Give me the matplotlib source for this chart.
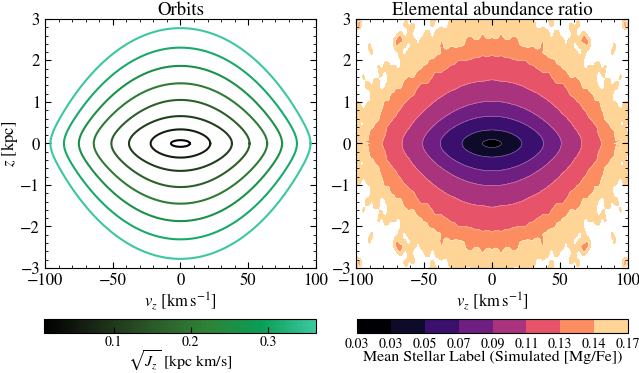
import matplotlib
matplotlib.use("Agg")
import matplotlib.pyplot as plt
import numpy as np
from matplotlib.colors import LinearSegmentedColormap, ListedColormap, BoundaryNorm, Normalize
from matplotlib.ticker import MultipleLocator

plt.rcParams['font.family'] = 'STIXGeneral'
plt.rcParams['mathtext.fontset'] = 'stix'

# orbits
orbit_zmax = [0.08, 0.34, 0.66, 1.05, 1.45, 1.87, 2.31, 2.78]   # kpc
orbit_vmax = [7, 22, 38, 51, 64, 75, 86, 96]                     # km/s
orbit_sqrtJz = [0.01, 0.06, 0.11, 0.16, 0.21, 0.26, 0.31, 0.36]

# right panel: band edges in "orbit size" (vz at z=0) and the [Mg/Fe] levels
band_vedge = [0, 7, 22, 38, 51, 66, 81, 91, 105]
mgfe_levels = [0.028, 0.034, 0.05, 0.07, 0.09, 0.11, 0.13, 0.145, 0.17]
mgfe_ticklabels = ['0.03', '0.03', '0.05', '0.07', '0.09', '0.11', '0.13', '0.14', '0.17']
mgfe_colors = ['#000004', '#0d0a2a', '#3a0f6e', '#6f1f81', '#aa337d',
               '#e7546a', '#fc8d61', '#fed597']
# the four small islands near the corners (mirrored)
island_v, island_z = 65, 2.5

# vertical potential shape: thin disc + a bit of halo
def pot(z):
    return 791 * np.log(np.cosh(z / 0.276)) + 232 * z ** 2

jz_cmap = LinearSegmentedColormap.from_list(
    'jz', ['#000000', '#1b2a17', '#2b5a28', '#2f8236', '#0a9e57', '#3cc8a0'])
jz_norm = Normalize(0.01, 0.362)

fig = plt.figure(figsize=(6.39, 3.73), dpi=100)
ax1 = fig.add_axes([0.0704, 0.2815, 0.424, 0.6676])
ax2 = fig.add_axes([0.557, 0.2815, 0.4257, 0.6676])
cax1 = fig.add_axes([0.0689, 0.107, 0.4257, 0.0375])
cax2 = fig.add_axes([0.5587, 0.107, 0.4241, 0.0375])

# left: orbits (closed loops)
t = np.linspace(0, 2 * np.pi, 801)
for zm, vm, sj in zip(orbit_zmax, orbit_vmax, orbit_sqrtJz):
    z = zm * np.sin(t)
    vz = vm * np.sign(np.cos(t)) * np.sqrt(np.clip(1 - pot(z) / pot(zm), 0, None))
    ax1.plot(vz, z, color=jz_cmap(jz_norm(sj)), lw=1.5, solid_joinstyle='round')

# right: mean [Mg/Fe] in the vz-z plane
vg = np.linspace(-100, 100, 601)
zg = np.linspace(-3, 3, 601)
V, Z = np.meshgrid(vg, zg)
aV, aZ = np.abs(V), np.abs(Z)
veq = np.sqrt(V ** 2 + pot(Z))
tex = (np.cos(0.35 * aV + 0.4) * np.cos(6.1 * aZ + 1.1)
       + 0.8 * np.cos(0.61 * aV + 2.0) * np.cos(3.7 * aZ + 0.3)
       + 0.7 * np.cos(0.19 * aV + 1.3) * np.cos(9.3 * aZ + 2.2)
       + 0.5 * np.cos(0.93 * aV) * np.cos(12.8 * aZ + 0.9)) / 1.6
veq = veq * (1 + 0.055 * (veq / 100) ** 6 * tex)
veq = veq - 26 * np.exp(-((aV - island_v) / 5.5) ** 2 - ((aZ - island_z) / 0.17) ** 2)
field = np.interp(veq, band_vedge, mgfe_levels)
field = np.ma.masked_where(veq > band_vedge[-1], field)

cmap2 = ListedColormap(mgfe_colors)
norm2 = BoundaryNorm(mgfe_levels, cmap2.N)
cf = ax2.contourf(V, Z, field, levels=mgfe_levels, cmap=cmap2, norm=norm2)
ax2.contour(V, Z, field, levels=mgfe_levels[1:-1], colors='white', linewidths=0.4, alpha=0.45)

for ax in (ax1, ax2):
    ax.set_xlim(-100, 100)
    ax.set_ylim(-3, 3)
    ax.xaxis.set_major_locator(MultipleLocator(50))
    ax.xaxis.set_minor_locator(MultipleLocator(10))
    ax.yaxis.set_major_locator(MultipleLocator(1))
    ax.yaxis.set_minor_locator(MultipleLocator(0.2))
    ax.tick_params(which='both', direction='in', top=True, right=True, labelsize=12)
    ax.tick_params(which='major', length=4)
    ax.tick_params(which='minor', length=2)
    ax.set_xlabel(r'$v_z\ [\mathrm{km\,s^{-1}}]$', fontsize=12, labelpad=1)

ax1.set_ylabel(r'$z$ [kpc]', fontsize=12, labelpad=0)
ax1.set_title('Orbits', fontsize=13.5, pad=2)
ax2.set_title('Elemental abundance ratio', fontsize=13.5, pad=2)

cb1 = fig.colorbar(plt.cm.ScalarMappable(norm=jz_norm, cmap=jz_cmap), cax=cax1,
                   orientation='horizontal')
cb1.set_ticks([0.1, 0.2, 0.3])
cb1.ax.tick_params(direction='in', labelsize=10, length=4, pad=2)
cb1.set_label(r'$\sqrt{J_z}$ [kpc km/s]', fontsize=11.5, labelpad=0)

cb2 = fig.colorbar(cf, cax=cax2, orientation='horizontal', spacing='uniform')
cb2.set_ticks(mgfe_levels)
cb2.set_ticklabels(mgfe_ticklabels)
cb2.ax.tick_params(direction='in', labelsize=10, length=0, pad=3)
cb2.set_label('Mean Stellar Label (Simulated [Mg/Fe])', fontsize=11.5, labelpad=0)

fig.savefig('out.png', dpi=100)
